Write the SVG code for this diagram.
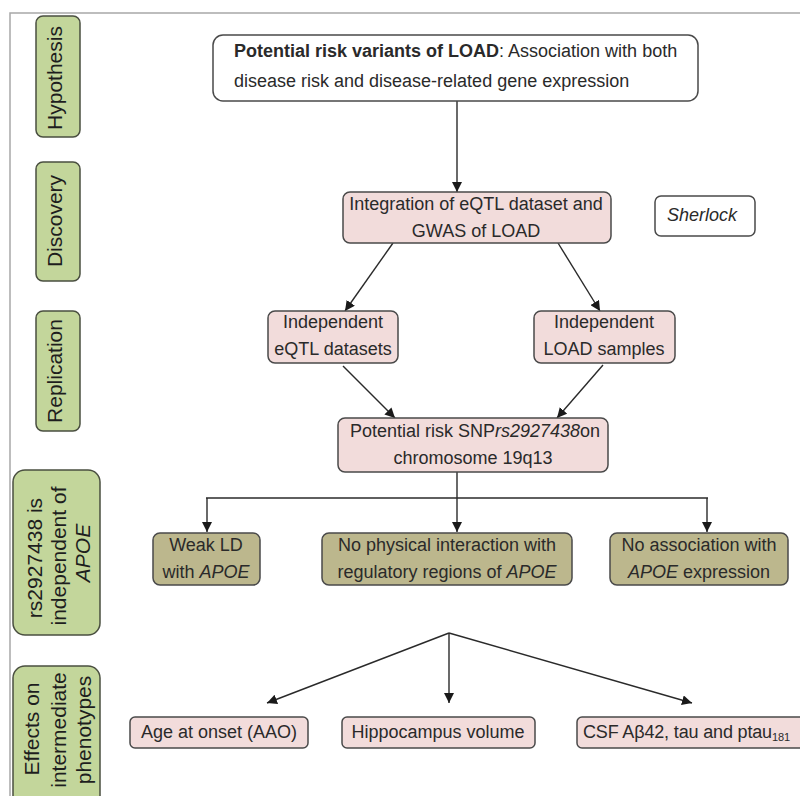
<svg xmlns="http://www.w3.org/2000/svg" width="800" height="796" viewBox="0 0 800 796">
<defs>
<style>
text{font-family:"Liberation Sans",Arial,sans-serif;fill:#2a2a2a}
.b{font-size:18px}
.c{text-anchor:middle}
.lab{font-size:21px;text-anchor:middle;fill:#1e1e1e}
.g{fill:#c3d69b;stroke:#4a4f40;stroke-width:1.5}
.p{fill:#f2dcdb;stroke:#4a4a4a;stroke-width:1.5}
.o{fill:#bcb78d;stroke:#4a4a4a;stroke-width:1.5}
.w{fill:#fff;stroke:#4a4a4a;stroke-width:1.5}
.e{stroke:#2a2a2a;stroke-width:1.4;fill:none}
.i{font-style:italic}
</style>
<marker id="ah" viewBox="0 0 10 10" refX="10" refY="5" markerWidth="10" markerHeight="10" markerUnits="userSpaceOnUse" orient="auto">
<path d="M0,0 L10,5 L0,10 z" fill="#1a1a1a"/>
</marker>
</defs>
<rect width="800" height="796" fill="#fff"/>
<polyline points="10,796 10,13 800,13" fill="none" stroke="#a8a8a8" stroke-width="1.5"/>

<g id="label-hypothesis"><rect class="g" x="36" y="16" width="44" height="121" rx="7"/><text class="lab" transform="translate(62,78) rotate(-90)">Hypothesis</text></g>
<g id="label-discovery"><rect class="g" x="36" y="162" width="44" height="119" rx="7"/><text class="lab" transform="translate(62,221) rotate(-90)">Discovery</text></g>
<g id="label-replication"><rect class="g" x="36" y="311" width="44" height="120" rx="7"/><text class="lab" transform="translate(62,371) rotate(-90)">Replication</text></g>
<g id="label-independent"><rect class="g" x="13" y="470" width="87" height="165" rx="12"/>
<text class="lab" transform="translate(42,558) rotate(-90)">rs2927438 is</text>
<text class="lab" transform="translate(66,556) rotate(-90)">independent of</text>
<text class="lab i" transform="translate(90,553) rotate(-90)">APOE</text></g>
<g id="label-effects"><rect class="g" x="13" y="666" width="87" height="145" rx="12"/>
<text class="lab" transform="translate(39,729) rotate(-90)">Effects on</text>
<text class="lab" transform="translate(66,730) rotate(-90)">intermediate</text>
<text class="lab" transform="translate(91,730) rotate(-90)">phenotypes</text></g>

<g id="connectors">
<line class="e" x1="457" y1="101" x2="457" y2="192" marker-end="url(#ah)"/>
<line class="e" x1="393" y1="243" x2="345" y2="311" marker-end="url(#ah)"/>
<line class="e" x1="558" y1="243" x2="600" y2="311" marker-end="url(#ah)"/>
<line class="e" x1="343" y1="366" x2="395" y2="418" marker-end="url(#ah)"/>
<line class="e" x1="603" y1="365" x2="557" y2="418" marker-end="url(#ah)"/>
<polyline class="e" points="457,472 457,498"/>
<line class="e" x1="206" y1="498" x2="708" y2="498"/>
<line class="e" x1="207" y1="498" x2="207" y2="532" marker-end="url(#ah)"/>
<line class="e" x1="457" y1="498" x2="457" y2="532" marker-end="url(#ah)"/>
<line class="e" x1="707" y1="498" x2="707" y2="532" marker-end="url(#ah)"/>
<line class="e" x1="449" y1="633" x2="267" y2="703" marker-end="url(#ah)"/>
<line class="e" x1="449" y1="633" x2="449" y2="703" marker-end="url(#ah)"/>
<line class="e" x1="449" y1="633" x2="692" y2="703" marker-end="url(#ah)"/>
</g>

<g id="hypothesis"><rect class="w" x="213" y="35" width="485" height="66" rx="10"/>
<text class="b" x="234" y="57"><tspan font-weight="bold">Potential risk variants of LOAD</tspan>: Association with both</text>
<text class="b" x="234" y="87">disease risk and disease-related gene expression</text></g>

<g id="integration"><rect class="p" x="343" y="192" width="268" height="51" rx="7"/>
<text class="b c" x="476" y="210">Integration of eQTL dataset and</text>
<text class="b c" x="476" y="237">GWAS of LOAD</text></g>

<g id="sherlock"><rect class="w" x="655" y="196" width="100" height="40" rx="6"/>
<text class="b c i" x="702" y="221">Sherlock</text></g>

<g id="eqtl"><rect class="p" x="268" y="311" width="130" height="52" rx="7"/>
<text class="b c" x="333" y="328">Independent</text>
<text class="b c" x="333" y="355">eQTL datasets</text></g>

<g id="load"><rect class="p" x="534" y="311" width="141" height="52" rx="7"/>
<text class="b c" x="604" y="328">Independent</text>
<text class="b c" x="604" y="355">LOAD samples</text></g>

<g id="snp"><rect class="p" x="338" y="418" width="270" height="54" rx="7"/>
<text class="b c" x="475" y="437">Potential risk SNP<tspan class="i">rs2927438</tspan>on</text>
<text class="b c" x="473" y="464">chromosome 19q13</text></g>

<g id="weak-ld"><rect class="o" x="153" y="533" width="107" height="52" rx="7"/>
<text class="b c" x="206" y="551">Weak LD</text>
<text class="b c" x="206" y="578">with <tspan class="i">APOE</tspan></text></g>

<g id="no-physical"><rect class="o" x="322" y="533" width="250" height="52" rx="7"/>
<text class="b c" x="447" y="551">No physical interaction with</text>
<text class="b c" x="447" y="578">regulatory regions of <tspan class="i">APOE</tspan></text></g>

<g id="no-association"><rect class="o" x="610" y="533" width="178" height="52" rx="7"/>
<text class="b c" x="699" y="551">No association with</text>
<text class="b c" x="699" y="578"><tspan class="i">APOE</tspan> expression</text></g>

<g id="aao"><rect class="p" x="130" y="717" width="178" height="31" rx="5"/>
<text class="b c" x="219" y="738">Age at onset (AAO)</text></g>

<g id="hippocampus"><rect class="p" x="342" y="717" width="193" height="31" rx="5"/>
<text class="b c" x="438" y="738">Hippocampus volume</text></g>

<g id="csf"><rect class="p" x="577" y="717" width="240" height="31" rx="5"/>
<text class="b" x="583" y="738" textLength="207" lengthAdjust="spacing">CSF Aβ42, tau and ptau<tspan font-size="11" dy="3">181</tspan></text></g>
</svg>
